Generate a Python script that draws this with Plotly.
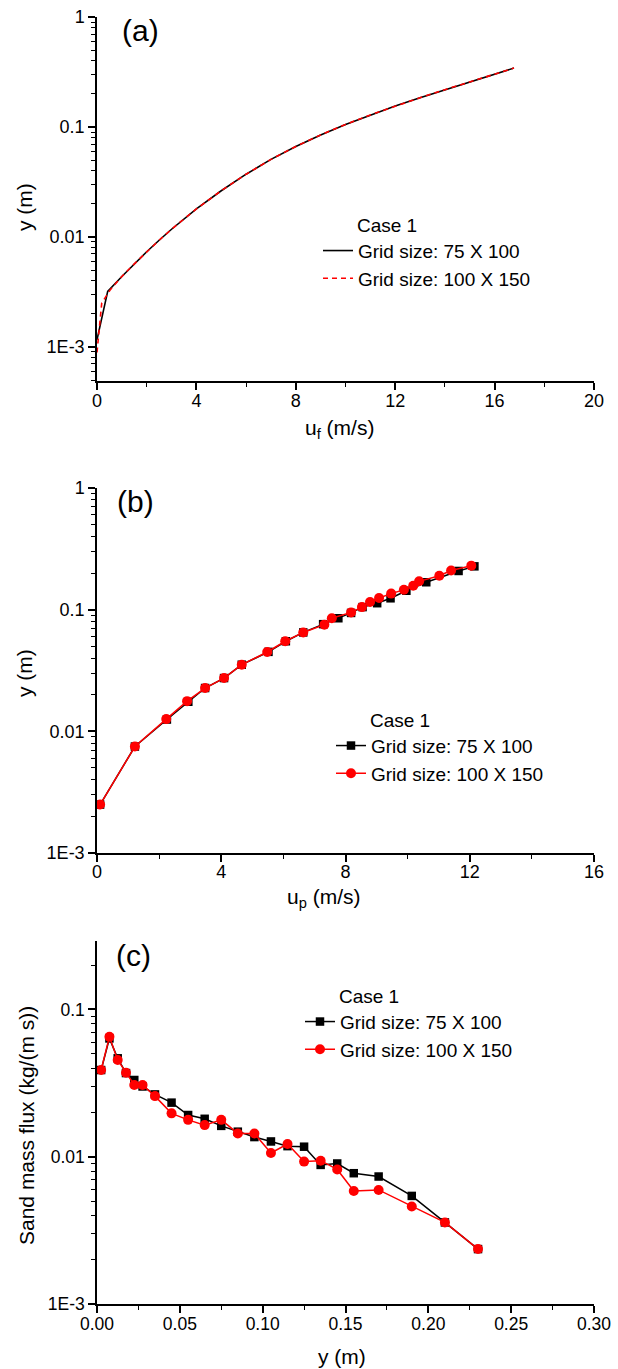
import plotly.graph_objects as go

# ---------------- (a) fluid velocity profile ----------------
uf_75x100 = [0.0, 0.43, 1.0, 1.5, 2.0, 2.5, 3.0, 4.0, 5.0, 6.0, 7.0, 8.0,
             9.0, 10.0, 11.0, 12.0, 13.0, 14.0, 15.0, 16.0, 16.78]
yf_75x100 = [0.00116, 0.0032, 0.00437, 0.00569, 0.00733, 0.00933, 0.01175,
             0.0180, 0.0263, 0.0372, 0.0507, 0.0665, 0.0847, 0.1054, 0.1288,
             0.1549, 0.1845, 0.2183, 0.257, 0.302, 0.343]
uf_100x150 = [0.0, 0.19, 0.53, 1.0, 1.5, 2.0, 2.5, 3.0, 4.0, 5.0, 6.0, 7.0,
              8.0, 9.0, 10.0, 11.0, 12.0, 13.0, 14.0, 15.0, 16.0, 16.78]
yf_100x150 = [0.00089, 0.0025, 0.0033, 0.00437, 0.00569, 0.00733, 0.00933,
              0.01175, 0.0180, 0.0263, 0.0372, 0.0507, 0.0665, 0.0847, 0.1054,
              0.1288, 0.1549, 0.1845, 0.2183, 0.257, 0.302, 0.343]

# ---------------- (b) particle velocity profile ----------------
up_75x100 = [0.10, 1.22, 2.25, 2.94, 3.48, 4.09, 4.66, 5.52, 6.08, 6.64,
             7.28, 7.77, 8.18, 8.55, 9.02, 9.45, 9.96, 10.60, 11.64, 12.15]
yp_75x100 = [0.0025, 0.0075, 0.0125, 0.0175, 0.0227, 0.0274, 0.0353, 0.045,
             0.055, 0.065, 0.076, 0.085, 0.094, 0.105, 0.113, 0.124, 0.143,
             0.168, 0.208, 0.227]
up_100x150 = [0.10, 1.22, 2.23, 2.90, 3.48, 4.09, 4.66, 5.48, 6.06, 6.64,
              7.32, 7.56, 8.18, 8.53, 8.79, 9.08, 9.47, 9.88, 10.18, 10.37,
              11.02, 11.40, 12.05]
yp_100x150 = [0.0025, 0.0075, 0.0126, 0.0177, 0.0227, 0.0274, 0.0353, 0.0449,
              0.055, 0.065, 0.0753, 0.085, 0.095, 0.105, 0.1156, 0.1247,
              0.1355, 0.146, 0.157, 0.171, 0.19, 0.21, 0.23]

# ---------------- (c) sand mass flux profile ----------------
yq = [0.0025, 0.0075, 0.0125, 0.0175, 0.0225, 0.0275, 0.035, 0.045, 0.055,
      0.065, 0.075, 0.085, 0.095, 0.105, 0.115, 0.125, 0.135, 0.145, 0.155,
      0.17, 0.19, 0.21, 0.23]
q_75x100 = [0.0388, 0.0636, 0.0466, 0.037, 0.0332, 0.030, 0.0265, 0.0233,
            0.0192, 0.0181, 0.0162, 0.0148, 0.0136, 0.0127, 0.0118, 0.0117,
            0.0088, 0.0090, 0.00773, 0.00734, 0.00542, 0.00358, 0.00236]
q_100x150 = [0.0388, 0.0653, 0.0454, 0.0372, 0.0307, 0.0307, 0.0258, 0.0197,
             0.0178, 0.0164, 0.0178, 0.0144, 0.0144, 0.0106, 0.0122, 0.00927,
             0.0094, 0.0082, 0.00586, 0.00595, 0.00459, 0.00358, 0.00236]

series_names = ["Grid size: 75 X 100", "Grid size: 100 X 150"]
log_ticks = [0.001, 0.01, 0.1, 1]
log_ticktext = ["1E-3", "0.01", "0.1", "1"]

W, H = 618, 1369
FONT = "Liberation Sans, Arial, sans-serif"
BLACK, RED = "#000000", "#ff0000"


def px_x(p):
    return p / W


def px_y(p):
    return 1 - p / H


fig = go.Figure()

# (a) lines
fig.add_trace(go.Scatter(x=uf_75x100, y=yf_75x100, mode="lines", name=series_names[0],
                         line=dict(color=BLACK, width=1.6), xaxis="x", yaxis="y", legend="legend"))
fig.add_trace(go.Scatter(x=uf_100x150, y=yf_100x150, mode="lines", name=series_names[1],
                         line=dict(color=RED, width=1.6, dash="5px,4px"), xaxis="x", yaxis="y",
                         legend="legend"))

# (b) lines + markers
fig.add_trace(go.Scatter(x=up_75x100, y=yp_75x100, mode="lines+markers", name=series_names[0],
                         line=dict(color=BLACK, width=1.5),
                         marker=dict(symbol="square", size=8.5, color=BLACK),
                         xaxis="x2", yaxis="y2", legend="legend2"))
fig.add_trace(go.Scatter(x=up_100x150, y=yp_100x150, mode="lines+markers", name=series_names[1],
                         line=dict(color=RED, width=1.5),
                         marker=dict(symbol="circle", size=10, color=RED),
                         xaxis="x2", yaxis="y2", legend="legend2"))

# (c) lines + markers
fig.add_trace(go.Scatter(x=yq, y=q_75x100, mode="lines+markers", name=series_names[0],
                         line=dict(color=BLACK, width=1.5),
                         marker=dict(symbol="square", size=8.5, color=BLACK),
                         xaxis="x3", yaxis="y3", legend="legend3"))
fig.add_trace(go.Scatter(x=yq, y=q_100x150, mode="lines+markers", name=series_names[1],
                         line=dict(color=RED, width=1.5),
                         marker=dict(symbol="circle", size=10, color=RED),
                         xaxis="x3", yaxis="y3", legend="legend3"))


def axis_style(size, standoff=0):
    return dict(
        showline=True, linecolor=BLACK, linewidth=1.5, mirror=False,
        ticks="outside", ticklen=7, tickwidth=1.5, tickcolor=BLACK,
        showgrid=False, zeroline=False, automargin=False,
        ticklabelstandoff=standoff,
        tickfont=dict(family=FONT, size=size, color=BLACK),
    )


def minor_style(vals):
    return dict(ticks="outside", ticklen=4, tickwidth=1, tickcolor=BLACK,
                tickvals=vals, showgrid=False)


def log_minor(lo_exp, hi_exp, lo_val, hi_val):
    vals = []
    for e in range(lo_exp, hi_exp + 1):
        for m in range(2, 10):
            v = m * 10.0 ** e
            if lo_val <= v <= hi_val:
                vals.append(v)
    return vals


xdom = [px_x(97), px_x(594)]
dom_a = [px_y(381), px_y(17)]
dom_b = [px_y(853), px_y(488)]
dom_c = [px_y(1304), px_y(941)]

fig.update_layout(
    width=W, height=H,
    margin=dict(l=0, r=0, t=0, b=0, autoexpand=False),
    paper_bgcolor="white", plot_bgcolor="white",
    font=dict(family=FONT, size=18, color=BLACK),
    xaxis=dict(axis_style(18, -4), domain=xdom, anchor="y", range=[0, 20],
               tickvals=[0, 4, 8, 12, 16, 20], minor=minor_style([2, 6, 10, 14, 18])),
    yaxis=dict(axis_style(18), domain=dom_a, anchor="x", type="log", range=[-3.31, 0],
               tickvals=log_ticks, ticktext=log_ticktext,
               minor=minor_style(log_minor(-4, -1, 4.9e-4, 1))),
    xaxis2=dict(axis_style(18, -5), domain=xdom, anchor="y2", range=[0, 16],
                tickvals=[0, 4, 8, 12, 16], minor=minor_style([2, 6, 10, 14])),
    yaxis2=dict(axis_style(18), domain=dom_b, anchor="x2", type="log", range=[-3, 0],
                tickvals=log_ticks, ticktext=log_ticktext,
                minor=minor_style(log_minor(-3, -1, 1e-3, 1))),
    xaxis3=dict(axis_style(17.5, -4), domain=xdom, anchor="y3", range=[0, 0.30],
                tickvals=[0, 0.05, 0.10, 0.15, 0.20, 0.25, 0.30],
                ticktext=["0.00", "0.05", "0.10", "0.15", "0.20", "0.25", "0.30"],
                minor=minor_style([0.025, 0.075, 0.125, 0.175, 0.225, 0.275])),
    yaxis3=dict(axis_style(17.5), domain=dom_c, anchor="x3", type="log", range=[-3, -0.535],
                tickvals=log_ticks[:3], ticktext=log_ticktext[:3],
                minor=minor_style(log_minor(-3, -1, 1e-3, 0.29))),
)

legend_common = dict(
    bgcolor="rgba(0,0,0,0)", borderwidth=0,
    font=dict(family=FONT, size=19, color=BLACK),
    xanchor="left", yanchor="top", tracegroupgap=0, itemwidth=30,
)
case_title = dict(text="\u00a0" * 7 + "Case 1", font=dict(family=FONT, size=19, color=BLACK))

fig.update_layout(
    legend=dict(legend_common, x=px_x(318), y=px_y(207), title=case_title),
    legend2=dict(legend_common, x=px_x(331), y=px_y(702), title=case_title),
    legend3=dict(legend_common, x=px_x(300), y=px_y(978), title=case_title),
)

# axis titles
axis_titles = [
    ("u<sub>f</sub> (m/s)", 339, 429, 0),
    ("u<sub>p</sub> (m/s)", 324, 898, 0),
    ("y (m)", 342, 1356, 0),
    ("y (m)", 24, 207, -90),
    ("y (m)", 24, 673, -90),
    ("Sand mass flux (kg/(m s))", 26, 1126, -90),
]
for text, cx, cy, ang in axis_titles:
    fig.add_annotation(text=text, x=px_x(cx), y=px_y(cy), xref="paper", yref="paper",
                       xanchor="center", yanchor="middle", showarrow=False, textangle=ang,
                       font=dict(family=FONT, size=21, color=BLACK))

# panel letters
for label, cx, cy in [("(a)", 140, 31), ("(b)", 135, 501), ("(c)", 133, 955)]:
    fig.add_annotation(text=label, x=px_x(cx), y=px_y(cy), xref="paper", yref="paper",
                       xanchor="center", yanchor="middle", showarrow=False,
                       font=dict(family=FONT, size=30, color=BLACK))

fig.write_html("out.html")
